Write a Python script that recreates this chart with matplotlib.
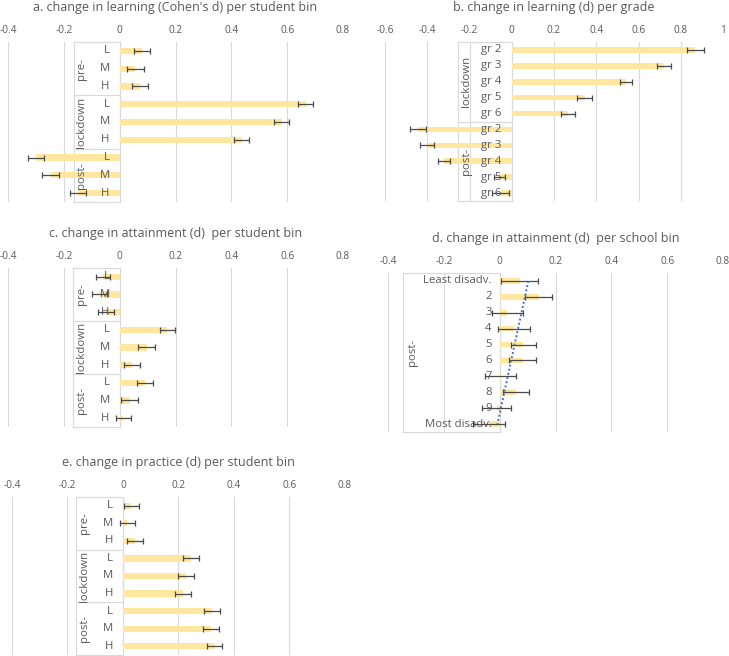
import numpy as np
import matplotlib.pyplot as plt

plt.rcParams["font.family"] = ["Open Sans", "DejaVu Sans"]
plt.rcParams["axes.unicode_minus"] = False

BAR = "#FFE7A0"
TXT = "#595959"
GRID = "#D9D9D9"
ERR = "#4A4A4A"

# ---------------------------------------------------------------------------
# data
# ---------------------------------------------------------------------------
phases = ["pre-", "lockdown", "post-"]
bins = ["L", "M", "H"]

learn_bin = [0.080, 0.056, 0.073, 0.666, 0.580, 0.437, -0.299, -0.247, -0.149]
learn_bin_err = [0.028, 0.031, 0.028, 0.026, 0.027, 0.027, 0.029, 0.030, 0.029]

grade_phases = ["lockdown", "post-"]
grades = ["gr 2", "gr 3", "gr 4", "gr 5", "gr 6"]
learn_grade = [0.868, 0.720, 0.539, 0.345, 0.266, -0.443, -0.400, -0.320, -0.058, -0.052]
learn_grade_err = [0.040, 0.032, 0.028, 0.034, 0.035, 0.037, 0.033, 0.028, 0.028, 0.040]

attain_bin = [-0.060, -0.072, -0.049, 0.171, 0.097, 0.045, 0.091, 0.036, 0.013]
attain_bin_err = [0.026, 0.027, 0.027, 0.026, 0.030, 0.028, 0.028, 0.030, 0.027]

school_phases = ["post-"]
school_bins = ["Least disadv.", "2", "3", "4", "5", "6", "7", "8", "9", "Most disadv."]
attain_school = [0.072, 0.140, 0.028, 0.051, 0.085, 0.083, 0.004, 0.059, -0.010, -0.038]
attain_school_err = [0.066, 0.048, 0.056, 0.056, 0.045, 0.048, 0.056, 0.046, 0.052, 0.057]

practice_bin = [0.030, 0.016, 0.042, 0.246, 0.227, 0.216, 0.320, 0.317, 0.331]
practice_bin_err = [0.028, 0.028, 0.029, 0.029, 0.030, 0.029, 0.028, 0.029, 0.027]

W, H = 729, 656
fig = plt.figure(figsize=(W / 100, H / 100), dpi=100)


def px_axes(l, t, r, b):
    return fig.add_axes([l / W, 1 - b / H, (r - l) / W, (b - t) / H])


def panel(rect, xlim, title, groups, cats, values, errors, box_px, group_px,
          label_px=10, trend=False):
    ax = px_axes(*rect)
    n = len(values)
    y = np.arange(n)
    labels = cats * (n // len(cats))
    per_group = n // len(groups)
    dpp = (xlim[1] - xlim[0]) / (rect[2] - rect[0])  # data units per pixel

    ax.set_xlim(*xlim)
    ax.set_ylim(n - 0.5, -0.5)
    ticks = np.arange(xlim[0], xlim[1] + 1e-9, 0.2)
    ax.set_xticks(ticks)
    ax.set_xticklabels([f"{t:g}" for t in np.round(ticks, 2)])
    ax.set_yticks([])
    ax.tick_params(axis="x", top=True, labeltop=True, bottom=False,
                   labelbottom=False, length=0, pad=4, labelsize=7.3,
                   labelcolor=TXT)
    for s in ax.spines.values():
        s.set_visible(False)
    ax.grid(axis="x", color=GRID, lw=0.8, zorder=0)
    ax.set_axisbelow(True)

    # category label box
    x0 = -box_px * dpp
    kw = dict(color=GRID, lw=0.8, zorder=1, clip_on=False)
    ax.plot([x0, x0], [-0.5, n - 0.5], **kw)
    ax.plot([0, 0], [-0.5, n - 0.5], **kw)
    for g in range(len(groups) + 1):
        yy = g * per_group - 0.5
        ax.plot([x0, 0], [yy, yy], **kw)

    ax.barh(y, values, height=0.35, color=BAR, zorder=2)
    ax.errorbar(values, y, xerr=errors, fmt="none", ecolor=ERR,
                elinewidth=0.9, capsize=2, capthick=0.9, zorder=4)

    for i, lab in enumerate(labels):
        ax.text(-label_px * dpp, i, lab, ha="right", va="center",
                fontsize=8.2, color=TXT, zorder=3)
    for g, name in enumerate(groups):
        yc = g * per_group + (per_group - 1) / 2
        ax.text(-group_px * dpp, yc, name, rotation=90, ha="center",
                va="center", fontsize=8.2, color=TXT, zorder=3)

    if trend:
        # linear trendline over the series, as in the spreadsheet
        k, b = np.polyfit(y, values, 1)
        ax.plot([b, k * (n - 1) + b], [0, n - 1], color="#4472C4", lw=1.4,
                ls=(0, (1, 1.2)), zorder=5)

    ax.annotate(title, xy=(0.5, 1), xycoords="axes fraction",
                xytext=(0, 25), textcoords="offset points", ha="center",
                va="center", fontsize=9.0, color=TXT)
    return ax


panel((8, 42, 343, 202), (-0.4, 0.8),
      "a. change in learning (Cohen's d) per student bin",
      phases, bins, learn_bin, learn_bin_err, 46, 38)
panel((385, 42, 723, 201), (-0.6, 1.0),
      "b. change in learning (d) per grade",
      grade_phases, grades, learn_grade, learn_grade_err, 54, 45)
panel((8, 268, 343, 427), (-0.4, 0.8),
      "c. change in attainment (d)  per student bin",
      phases, bins, attain_bin, attain_bin_err, 47, 38)
panel((388, 273, 723, 432), (-0.4, 0.8),
      "d. change in attainment (d)  per school bin",
      school_phases, school_bins, attain_school, attain_school_err, 97, 87,
      label_px=8, trend=True)
panel((12, 497, 345, 655), (-0.4, 0.8),
      "e. change in practice (d) per student bin",
      phases, bins, practice_bin, practice_bin_err, 47, 38)

fig.savefig("out.png", dpi=100, facecolor="white")
